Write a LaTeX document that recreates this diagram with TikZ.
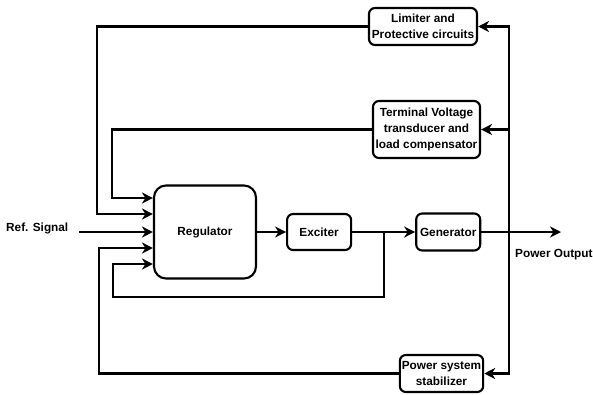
\documentclass[tikz,border=0pt]{standalone}
\usepackage{fontspec}
\setmainfont{Liberation Sans}
\usetikzlibrary{positioning,arrows.meta}

\tikzset{
  block/.style={draw, line width=2.1pt, rounded corners=6pt, align=center, inner sep=2pt},
  arr/.style={line width=2.1pt, -{Stealth[length=11pt,width=11pt,inset=3.5pt]}},
  lbl/.style={inner sep=0pt, anchor=west},
}

\begin{document}
\begin{tikzpicture}[x=1pt, y=-1pt, font=\fontsize{11.8}{16}\selectfont\bfseries]
  \useasboundingbox (0,0) rectangle (593,394);
  % Nodes
  % forward path
  \node[block, rounded corners=12pt, minimum width=102pt, minimum height=93pt] (reg) at (205,232) {Regulator};
  \node[block, minimum width=64pt, minimum height=36pt, right=29pt of reg] (exc) {Exciter};
  \node[block, minimum width=64pt, minimum height=37pt, right=63pt of exc] (gen) {Generator};
  % feedback blocks
  \node[block, minimum width=108pt, minimum height=37pt] (lim) at (423,26.5) {Limiter and\\Protective circuits};
  \node[block, minimum width=107pt, minimum height=57pt] (term) at (426.5,129.5) {Terminal Voltage\\transducer and\\load compensator};
  \node[block, minimum width=83pt, minimum height=37pt] (pss) at (441.5,373.5) {Power system\\stabilizer};
  % labels
  \node[lbl] (ref) at (6,228) {Ref. Signal};
  \node[lbl] (out) at (515,255) {Power Output};
  \coordinate (tap) at (509,232);
  \coordinate (split) at (384,232);
  \coordinate (end) at (561,232);
  % edges
  \draw[arr] ([xshift=11pt]ref.east |- reg.west) -- (reg.west);
  \draw[arr] (reg) -- (exc);
  \draw[arr] (exc) -- (gen);
  \draw[arr] (gen) -- (end);
  \draw[arr] (tap) |- (lim.east);
  \draw[arr] (tap |- term.east) -- (term.east);
  \draw[arr] (tap) |- (pss.east);
  % loops back to the regulator
  \draw[arr] (term.west) -| ([xshift=-41pt, yshift=34pt]reg.west) -- ([yshift=34pt]reg.west);
  \draw[arr] (lim.west) -| ([xshift=-56pt, yshift=18pt]reg.west) -- ([yshift=18pt]reg.west);
  \draw[arr] (pss.west) -| ([xshift=-54pt, yshift=-16pt]reg.west) -- ([yshift=-16pt]reg.west);
  \draw[arr] (split) -- ++(0,65) -| ([xshift=-40pt, yshift=-32pt]reg.west) -- ([yshift=-32pt]reg.west);
\end{tikzpicture}
\end{document}
